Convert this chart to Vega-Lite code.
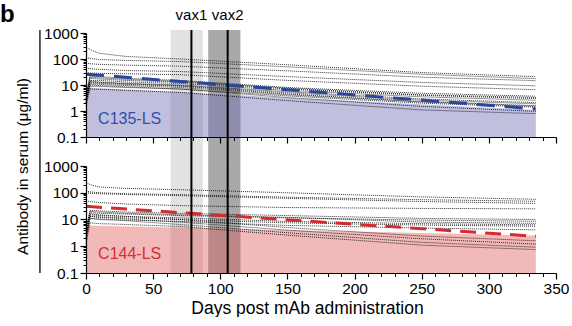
{
  "$schema": "https://vega.github.io/schema/vega-lite/v6.json",
  "padding": {"left": 0, "top": 3, "right": 2, "bottom": 0},
  "config": {
    "font": "Liberation Sans",
    "view": {"stroke": null},
    "axis": {"labelFlush": false, "labelOverlap": false, "grid": false}
  },
  "datasets": {
    "bands": [
      {"start": 63, "end": 87, "kind": "light"},
      {"start": 91, "end": 115, "kind": "dark"}
    ],
    "vax": [
      {"day": 78.5, "label": "vax1"},
      {"day": 105.5, "label": "vax2"}
    ],
    "mean135": [{"day": 0, "value": 26}, {"day": 335, "value": 1.2}],
    "fill135": [{"day": 0, "value": 8}, {"day": 335, "value": 1.1}],
    "mean144": [{"day": 0, "value": 31}, {"day": 335, "value": 2.35}],
    "fill144": [{"day": 0, "value": 6}, {"day": 335, "value": 2.5}],
    "ind135": [
      {"id": "L1", "day": 0, "value": 290}, {"id": "L1", "day": 3, "value": 230}, {"id": "L1", "day": 10, "value": 165}, {"id": "L1", "day": 30, "value": 125}, {"id": "L1", "day": 70, "value": 100}, {"id": "L1", "day": 150, "value": 60}, {"id": "L1", "day": 250, "value": 30}, {"id": "L1", "day": 335, "value": 21},
      {"id": "L2", "day": 0, "value": 115}, {"id": "L2", "day": 3, "value": 105}, {"id": "L2", "day": 10, "value": 95}, {"id": "L2", "day": 30, "value": 88}, {"id": "L2", "day": 70, "value": 80}, {"id": "L2", "day": 150, "value": 50}, {"id": "L2", "day": 250, "value": 26}, {"id": "L2", "day": 335, "value": 17.6},
      {"id": "L3", "day": 0, "value": 70}, {"id": "L3", "day": 3, "value": 66}, {"id": "L3", "day": 10, "value": 62}, {"id": "L3", "day": 30, "value": 58}, {"id": "L3", "day": 70, "value": 53}, {"id": "L3", "day": 150, "value": 35}, {"id": "L3", "day": 250, "value": 20}, {"id": "L3", "day": 335, "value": 14.7},
      {"id": "L4", "day": 0, "value": 45}, {"id": "L4", "day": 3, "value": 42}, {"id": "L4", "day": 10, "value": 40}, {"id": "L4", "day": 30, "value": 36}, {"id": "L4", "day": 70, "value": 33}, {"id": "L4", "day": 150, "value": 21}, {"id": "L4", "day": 250, "value": 12.5}, {"id": "L4", "day": 335, "value": 9.3},
      {"id": "L5", "day": 0, "value": 30}, {"id": "L5", "day": 3, "value": 29}, {"id": "L5", "day": 10, "value": 28}, {"id": "L5", "day": 30, "value": 27}, {"id": "L5", "day": 70, "value": 25}, {"id": "L5", "day": 150, "value": 15}, {"id": "L5", "day": 250, "value": 9}, {"id": "L5", "day": 335, "value": 6.6},
      {"id": "L6", "day": 0, "value": 4}, {"id": "L6", "day": 3, "value": 22}, {"id": "L6", "day": 10, "value": 21}, {"id": "L6", "day": 30, "value": 18}, {"id": "L6", "day": 70, "value": 15}, {"id": "L6", "day": 150, "value": 8}, {"id": "L6", "day": 250, "value": 4.8}, {"id": "L6", "day": 335, "value": 3.7},
      {"id": "L7", "day": 0, "value": 3}, {"id": "L7", "day": 3, "value": 18}, {"id": "L7", "day": 10, "value": 17}, {"id": "L7", "day": 30, "value": 15}, {"id": "L7", "day": 70, "value": 13}, {"id": "L7", "day": 150, "value": 7}, {"id": "L7", "day": 250, "value": 4}, {"id": "L7", "day": 335, "value": 3.0},
      {"id": "L8", "day": 0, "value": 2}, {"id": "L8", "day": 3, "value": 15}, {"id": "L8", "day": 10, "value": 15}, {"id": "L8", "day": 30, "value": 13}, {"id": "L8", "day": 70, "value": 11.5}, {"id": "L8", "day": 150, "value": 6.2}, {"id": "L8", "day": 250, "value": 3.5}, {"id": "L8", "day": 335, "value": 2.6},
      {"id": "L9", "day": 0, "value": 5}, {"id": "L9", "day": 3, "value": 14}, {"id": "L9", "day": 10, "value": 13}, {"id": "L9", "day": 30, "value": 11.5}, {"id": "L9", "day": 70, "value": 10}, {"id": "L9", "day": 150, "value": 5.5}, {"id": "L9", "day": 250, "value": 2.9}, {"id": "L9", "day": 335, "value": 2.1},
      {"id": "L10", "day": 0, "value": 2}, {"id": "L10", "day": 3, "value": 12}, {"id": "L10", "day": 10, "value": 11.5}, {"id": "L10", "day": 30, "value": 10.5}, {"id": "L10", "day": 70, "value": 9}, {"id": "L10", "day": 150, "value": 4.5}, {"id": "L10", "day": 250, "value": 2.3}, {"id": "L10", "day": 335, "value": 1.6},
      {"id": "L11", "day": 0, "value": 3}, {"id": "L11", "day": 3, "value": 10}, {"id": "L11", "day": 10, "value": 9.5}, {"id": "L11", "day": 30, "value": 8.5}, {"id": "L11", "day": 70, "value": 7}, {"id": "L11", "day": 150, "value": 3.3}, {"id": "L11", "day": 250, "value": 1.5}, {"id": "L11", "day": 335, "value": 0.97},
      {"id": "L12", "day": 0, "value": 1.5}, {"id": "L12", "day": 3, "value": 7}, {"id": "L12", "day": 10, "value": 6.8}, {"id": "L12", "day": 30, "value": 6.2}, {"id": "L12", "day": 70, "value": 5.2}, {"id": "L12", "day": 150, "value": 2.5}, {"id": "L12", "day": 250, "value": 1.1}, {"id": "L12", "day": 335, "value": 0.79},
      {"id": "L13", "day": 0, "value": 3}, {"id": "L13", "day": 3, "value": 13}, {"id": "L13", "day": 10, "value": 12.5}, {"id": "L13", "day": 30, "value": 11}, {"id": "L13", "day": 70, "value": 9.5}, {"id": "L13", "day": 150, "value": 5}, {"id": "L13", "day": 250, "value": 2.6}, {"id": "L13", "day": 335, "value": 1.9},
      {"id": "L14", "day": 0, "value": 2}, {"id": "L14", "day": 3, "value": 9}, {"id": "L14", "day": 10, "value": 8.8}, {"id": "L14", "day": 30, "value": 8}, {"id": "L14", "day": 70, "value": 7}, {"id": "L14", "day": 150, "value": 3.8}, {"id": "L14", "day": 250, "value": 2.0}, {"id": "L14", "day": 335, "value": 1.4},
      {"id": "L15", "day": 0, "value": 4}, {"id": "L15", "day": 3, "value": 20}, {"id": "L15", "day": 10, "value": 19}, {"id": "L15", "day": 30, "value": 16.5}, {"id": "L15", "day": 70, "value": 14}, {"id": "L15", "day": 150, "value": 7.5}, {"id": "L15", "day": 250, "value": 4.2}, {"id": "L15", "day": 335, "value": 3.3},
      {"id": "L16", "day": 0, "value": 2.5}, {"id": "L16", "day": 3, "value": 11}, {"id": "L16", "day": 10, "value": 10.5}, {"id": "L16", "day": 30, "value": 9.5}, {"id": "L16", "day": 70, "value": 8}, {"id": "L16", "day": 150, "value": 4.2}, {"id": "L16", "day": 250, "value": 2.2}, {"id": "L16", "day": 335, "value": 1.5}
    ],
    "ind144": [
      {"id": "M1", "day": 0, "value": 250}, {"id": "M1", "day": 3, "value": 200}, {"id": "M1", "day": 10, "value": 165}, {"id": "M1", "day": 30, "value": 145}, {"id": "M1", "day": 70, "value": 130}, {"id": "M1", "day": 150, "value": 100}, {"id": "M1", "day": 250, "value": 70}, {"id": "M1", "day": 335, "value": 57},
      {"id": "M2", "day": 0, "value": 100}, {"id": "M2", "day": 3, "value": 96}, {"id": "M2", "day": 10, "value": 92}, {"id": "M2", "day": 30, "value": 86}, {"id": "M2", "day": 70, "value": 78}, {"id": "M2", "day": 150, "value": 62}, {"id": "M2", "day": 250, "value": 47}, {"id": "M2", "day": 335, "value": 40},
      {"id": "M2b", "day": 0, "value": 115}, {"id": "M2b", "day": 3, "value": 108}, {"id": "M2b", "day": 10, "value": 100}, {"id": "M2b", "day": 30, "value": 92}, {"id": "M2b", "day": 70, "value": 85}, {"id": "M2b", "day": 150, "value": 68}, {"id": "M2b", "day": 250, "value": 55}, {"id": "M2b", "day": 335, "value": 48},
      {"id": "M3", "day": 0, "value": 50}, {"id": "M3", "day": 3, "value": 47}, {"id": "M3", "day": 10, "value": 43}, {"id": "M3", "day": 30, "value": 38}, {"id": "M3", "day": 70, "value": 33}, {"id": "M3", "day": 150, "value": 28}, {"id": "M3", "day": 250, "value": 26}, {"id": "M3", "day": 335, "value": 25},
      {"id": "M4", "day": 0, "value": 4}, {"id": "M4", "day": 3, "value": 22}, {"id": "M4", "day": 10, "value": 21}, {"id": "M4", "day": 30, "value": 19}, {"id": "M4", "day": 70, "value": 17}, {"id": "M4", "day": 150, "value": 14}, {"id": "M4", "day": 250, "value": 11}, {"id": "M4", "day": 335, "value": 10},
      {"id": "M5", "day": 0, "value": 3}, {"id": "M5", "day": 3, "value": 18}, {"id": "M5", "day": 10, "value": 17}, {"id": "M5", "day": 30, "value": 16}, {"id": "M5", "day": 70, "value": 14}, {"id": "M5", "day": 150, "value": 11.5}, {"id": "M5", "day": 250, "value": 9.5}, {"id": "M5", "day": 335, "value": 8.6},
      {"id": "M6", "day": 0, "value": 2}, {"id": "M6", "day": 3, "value": 15}, {"id": "M6", "day": 10, "value": 14}, {"id": "M6", "day": 30, "value": 13}, {"id": "M6", "day": 70, "value": 11.5}, {"id": "M6", "day": 150, "value": 8.5}, {"id": "M6", "day": 250, "value": 7}, {"id": "M6", "day": 335, "value": 6.3},
      {"id": "M7", "day": 0, "value": 6}, {"id": "M7", "day": 3, "value": 13}, {"id": "M7", "day": 10, "value": 12.5}, {"id": "M7", "day": 30, "value": 11.5}, {"id": "M7", "day": 70, "value": 10}, {"id": "M7", "day": 150, "value": 7.5}, {"id": "M7", "day": 250, "value": 6.2}, {"id": "M7", "day": 335, "value": 5.6},
      {"id": "M8", "day": 0, "value": 2.5}, {"id": "M8", "day": 3, "value": 11}, {"id": "M8", "day": 10, "value": 10.5}, {"id": "M8", "day": 30, "value": 9.5}, {"id": "M8", "day": 70, "value": 8.5}, {"id": "M8", "day": 150, "value": 6}, {"id": "M8", "day": 250, "value": 4.8}, {"id": "M8", "day": 335, "value": 4.1},
      {"id": "M9", "day": 0, "value": 3}, {"id": "M9", "day": 3, "value": 16}, {"id": "M9", "day": 10, "value": 15}, {"id": "M9", "day": 30, "value": 13}, {"id": "M9", "day": 70, "value": 10}, {"id": "M9", "day": 150, "value": 5}, {"id": "M9", "day": 250, "value": 2.4}, {"id": "M9", "day": 335, "value": 1.6},
      {"id": "M10", "day": 0, "value": 2}, {"id": "M10", "day": 3, "value": 13}, {"id": "M10", "day": 10, "value": 12}, {"id": "M10", "day": 30, "value": 10.5}, {"id": "M10", "day": 70, "value": 8}, {"id": "M10", "day": 150, "value": 4}, {"id": "M10", "day": 250, "value": 1.9}, {"id": "M10", "day": 335, "value": 1.2},
      {"id": "M11", "day": 0, "value": 1.5}, {"id": "M11", "day": 3, "value": 11}, {"id": "M11", "day": 10, "value": 10}, {"id": "M11", "day": 30, "value": 9}, {"id": "M11", "day": 70, "value": 6.5}, {"id": "M11", "day": 150, "value": 3.2}, {"id": "M11", "day": 250, "value": 1.4}, {"id": "M11", "day": 335, "value": 0.92},
      {"id": "M12", "day": 0, "value": 1.2}, {"id": "M12", "day": 3, "value": 7.5}, {"id": "M12", "day": 10, "value": 7}, {"id": "M12", "day": 30, "value": 6.5}, {"id": "M12", "day": 70, "value": 5.5}, {"id": "M12", "day": 150, "value": 2.6}, {"id": "M12", "day": 250, "value": 1.1}, {"id": "M12", "day": 335, "value": 0.75},
      {"id": "M13", "day": 0, "value": 5}, {"id": "M13", "day": 3, "value": 20}, {"id": "M13", "day": 10, "value": 19}, {"id": "M13", "day": 30, "value": 17}, {"id": "M13", "day": 70, "value": 15}, {"id": "M13", "day": 150, "value": 12}, {"id": "M13", "day": 250, "value": 8}, {"id": "M13", "day": 335, "value": 7.2}
    ]
  },
  "vconcat": [
    {
      "width": 470,
      "height": 104,
      "resolve": {"axis": {"x": "independent", "y": "independent"}},
      "layer": [
        {
          "data": {"name": "bands"},
          "mark": {"type": "rect", "clip": false},
          "encoding": {
            "x": {"field": "start", "type": "quantitative", "scale": {"domain": [0, 350], "nice": false, "zero": false}, "axis": null},
            "x2": {"field": "end"},
            "y": {"datum": 1304, "type": "quantitative", "scale": {"type": "log", "domain": [0.1, 1000], "nice": false}, "axis": null},
            "y2": {"datum": 0.0077},
            "color": {"field": "kind", "type": "nominal", "scale": {"domain": ["light", "dark"], "range": ["#e2e2e2", "#a9a9ab"]}, "legend": null}
          }
        },
        {
          "data": {"name": "fill135"},
          "mark": {"type": "area", "color": "#6b66b0", "opacity": 0.42},
          "encoding": {
            "x": {"field": "day", "type": "quantitative", "scale": {"domain": [0, 350], "nice": false, "zero": false},
              "axis": {"orient": "bottom", "values": [0, 50, 100, 150, 200, 250, 300, 350], "labels": false, "tickSize": 6, "tickWidth": 1.2, "domainWidth": 1.2, "domainColor": "#000", "tickColor": "#000", "title": null, "zindex": 2}},
            "y": {"field": "value", "type": "quantitative", "scale": {"type": "log", "domain": [0.1, 1000], "nice": false},
              "axis": {"orient": "left", "values": [0.1, 1, 10, 100, 1000], "format": "~r", "labelFontSize": 15.5, "labelColor": "#000", "labelPadding": 2, "tickSize": 6, "tickWidth": 1.2, "domainWidth": 1.2, "domainColor": "#000", "tickColor": "#000", "title": "Antibody in serum (μg/ml)", "titleFontSize": 15.5, "titleFontWeight": "normal", "titleColor": "#000", "titleX": -59, "titleY": 133, "titleBaseline": "alphabetic", "zindex": 2}},
            "y2": {"datum": 0.1}
          }
        },
        {
          "data": {"name": "ind135"},
          "mark": {"type": "line", "color": "#000", "strokeWidth": 1, "strokeDash": [1, 1], "opacity": 0.8},
          "encoding": {
            "x": {"field": "day", "type": "quantitative", "scale": {"domain": [0, 350], "nice": false, "zero": false},
              "axis": {"orient": "bottom", "values": [10, 20, 30, 40, 60, 70, 80, 90, 110, 120, 130, 140, 160, 170, 180, 190, 210, 220, 230, 240, 260, 270, 280, 290, 310, 320, 330, 340], "labels": false, "domain": false, "tickSize": 3.5, "tickWidth": 1, "tickColor": "#000", "title": null, "zindex": 2}},
            "y": {"field": "value", "type": "quantitative", "scale": {"type": "log", "domain": [0.1, 1000], "nice": false},
              "axis": {"orient": "left", "values": [0.2, 0.3, 0.4, 0.5, 0.6, 0.7, 0.8, 0.9, 2, 3, 4, 5, 6, 7, 8, 9, 20, 30, 40, 50, 60, 70, 80, 90, 200, 300, 400, 500, 600, 700, 800, 900], "labels": false, "domain": false, "tickSize": 3, "tickWidth": 1, "tickColor": "#000", "title": null, "zindex": 2}},
            "detail": {"field": "id", "type": "nominal"}
          }
        },
        {
          "data": {"name": "mean135"},
          "mark": {"type": "line", "color": "#2b46a0", "strokeWidth": 3, "strokeDash": [18, 10]},
          "encoding": {
            "x": {"field": "day", "type": "quantitative", "axis": null},
            "y": {"field": "value", "type": "quantitative", "axis": null}
          }
        },
        {
          "data": {"name": "vax"},
          "mark": {"type": "rule", "color": "#000", "strokeWidth": 2, "clip": false},
          "encoding": {
            "x": {"field": "day", "type": "quantitative", "axis": null},
            "y": {"datum": 1304, "type": "quantitative", "axis": null},
            "y2": {"datum": 0.0077}
          }
        },
        {
          "data": {"name": "vax"},
          "mark": {"type": "text", "fontSize": 15, "baseline": "middle", "color": "#000", "clip": false},
          "encoding": {
            "x": {"field": "day", "type": "quantitative", "axis": null},
            "y": {"datum": 4925, "type": "quantitative", "axis": null},
            "text": {"field": "label"}
          }
        },
        {
          "data": {"values": [{"label": "C135-LS"}]},
          "mark": {"type": "text", "fontSize": 16, "align": "left", "baseline": "middle", "color": "#2d4fae"},
          "encoding": {
            "x": {"datum": 9, "type": "quantitative", "axis": null},
            "y": {"datum": 0.5, "type": "quantitative", "axis": null},
            "text": {"field": "label"}
          }
        },
        {
          "data": {"values": [{"label": "b"}]},
          "mark": {"type": "text", "fontSize": 24, "fontWeight": "bold", "align": "left", "baseline": "top", "color": "#000", "clip": false},
          "encoding": {
            "x": {"datum": -64, "type": "quantitative", "axis": null},
            "y": {"datum": 14000, "type": "quantitative", "axis": null},
            "text": {"field": "label"}
          }
        },
        {
          "data": {"values": [{"label": "bracket"}]},
          "mark": {"type": "rule", "color": "#000", "strokeWidth": 1.3, "clip": false},
          "encoding": {
            "x": {"datum": -34.3, "type": "quantitative", "axis": null},
            "y": {"datum": 1304, "type": "quantitative", "axis": null},
            "y2": {"datum": 0.00000059}
          }
        }
      ]
    },
    {
      "width": 470,
      "height": 107,
      "resolve": {"axis": {"x": "independent", "y": "independent"}},
      "layer": [
        {
          "data": {"name": "bands"},
          "mark": {"type": "rect", "clip": false},
          "encoding": {
            "x": {"field": "start", "type": "quantitative", "scale": {"domain": [0, 350], "nice": false, "zero": false}, "axis": null},
            "x2": {"field": "end"},
            "y": {"datum": 1000, "type": "quantitative", "scale": {"type": "log", "domain": [0.1, 1000], "nice": false}, "axis": null},
            "y2": {"datum": 0.1},
            "color": {"field": "kind", "type": "nominal", "scale": {"domain": ["light", "dark"], "range": ["#e2e2e2", "#a9a9ab"]}, "legend": null}
          }
        },
        {
          "data": {"name": "fill144"},
          "mark": {"type": "area", "color": "#e05858", "opacity": 0.42},
          "encoding": {
            "x": {"field": "day", "type": "quantitative", "scale": {"domain": [0, 350], "nice": false, "zero": false},
              "axis": {"orient": "bottom", "values": [0, 50, 100, 150, 200, 250, 300, 350], "labelFontSize": 15.5, "labelColor": "#000", "labelPadding": 2, "tickSize": 6, "tickWidth": 1.2, "domainWidth": 1.2, "domainColor": "#000", "tickColor": "#000", "title": "Days post mAb administration", "titleFontSize": 17.5, "titleFontWeight": "normal", "titleColor": "#000", "titlePadding": 3, "titleX": 221, "zindex": 2}},
            "y": {"field": "value", "type": "quantitative", "scale": {"type": "log", "domain": [0.1, 1000], "nice": false},
              "axis": {"orient": "left", "values": [0.1, 1, 10, 100, 1000], "format": "~r", "labelFontSize": 15.5, "labelColor": "#000", "labelPadding": 2, "tickSize": 6, "tickWidth": 1.2, "domainWidth": 1.2, "domainColor": "#000", "tickColor": "#000", "title": null, "zindex": 2}},
            "y2": {"datum": 0.1}
          }
        },
        {
          "data": {"name": "ind144"},
          "mark": {"type": "line", "color": "#000", "strokeWidth": 1, "strokeDash": [1, 1], "opacity": 0.8},
          "encoding": {
            "x": {"field": "day", "type": "quantitative", "scale": {"domain": [0, 350], "nice": false, "zero": false},
              "axis": {"orient": "bottom", "values": [10, 20, 30, 40, 60, 70, 80, 90, 110, 120, 130, 140, 160, 170, 180, 190, 210, 220, 230, 240, 260, 270, 280, 290, 310, 320, 330, 340], "labels": false, "domain": false, "tickSize": 3.5, "tickWidth": 1, "tickColor": "#000", "title": null, "zindex": 2}},
            "y": {"field": "value", "type": "quantitative", "scale": {"type": "log", "domain": [0.1, 1000], "nice": false},
              "axis": {"orient": "left", "values": [0.2, 0.3, 0.4, 0.5, 0.6, 0.7, 0.8, 0.9, 2, 3, 4, 5, 6, 7, 8, 9, 20, 30, 40, 50, 60, 70, 80, 90, 200, 300, 400, 500, 600, 700, 800, 900], "labels": false, "domain": false, "tickSize": 3, "tickWidth": 1, "tickColor": "#000", "title": null, "zindex": 2}},
            "detail": {"field": "id", "type": "nominal"}
          }
        },
        {
          "data": {"name": "mean144"},
          "mark": {"type": "line", "color": "#d42a30", "strokeWidth": 3, "strokeDash": [16, 9]},
          "encoding": {
            "x": {"field": "day", "type": "quantitative", "axis": null},
            "y": {"field": "value", "type": "quantitative", "axis": null}
          }
        },
        {
          "data": {"name": "vax"},
          "mark": {"type": "rule", "color": "#000", "strokeWidth": 2, "clip": false},
          "encoding": {
            "x": {"field": "day", "type": "quantitative", "axis": null},
            "y": {"datum": 1000, "type": "quantitative", "axis": null},
            "y2": {"datum": 0.1}
          }
        },
        {
          "data": {"values": [{"label": "C144-LS"}]},
          "mark": {"type": "text", "fontSize": 16, "align": "left", "baseline": "middle", "color": "#d42e3a"},
          "encoding": {
            "x": {"datum": 9, "type": "quantitative", "axis": null},
            "y": {"datum": 0.5, "type": "quantitative", "axis": null},
            "text": {"field": "label"}
          }
        }
      ]
    }
  ],
  "spacing": 29,
  "bounds": "flush"
}
